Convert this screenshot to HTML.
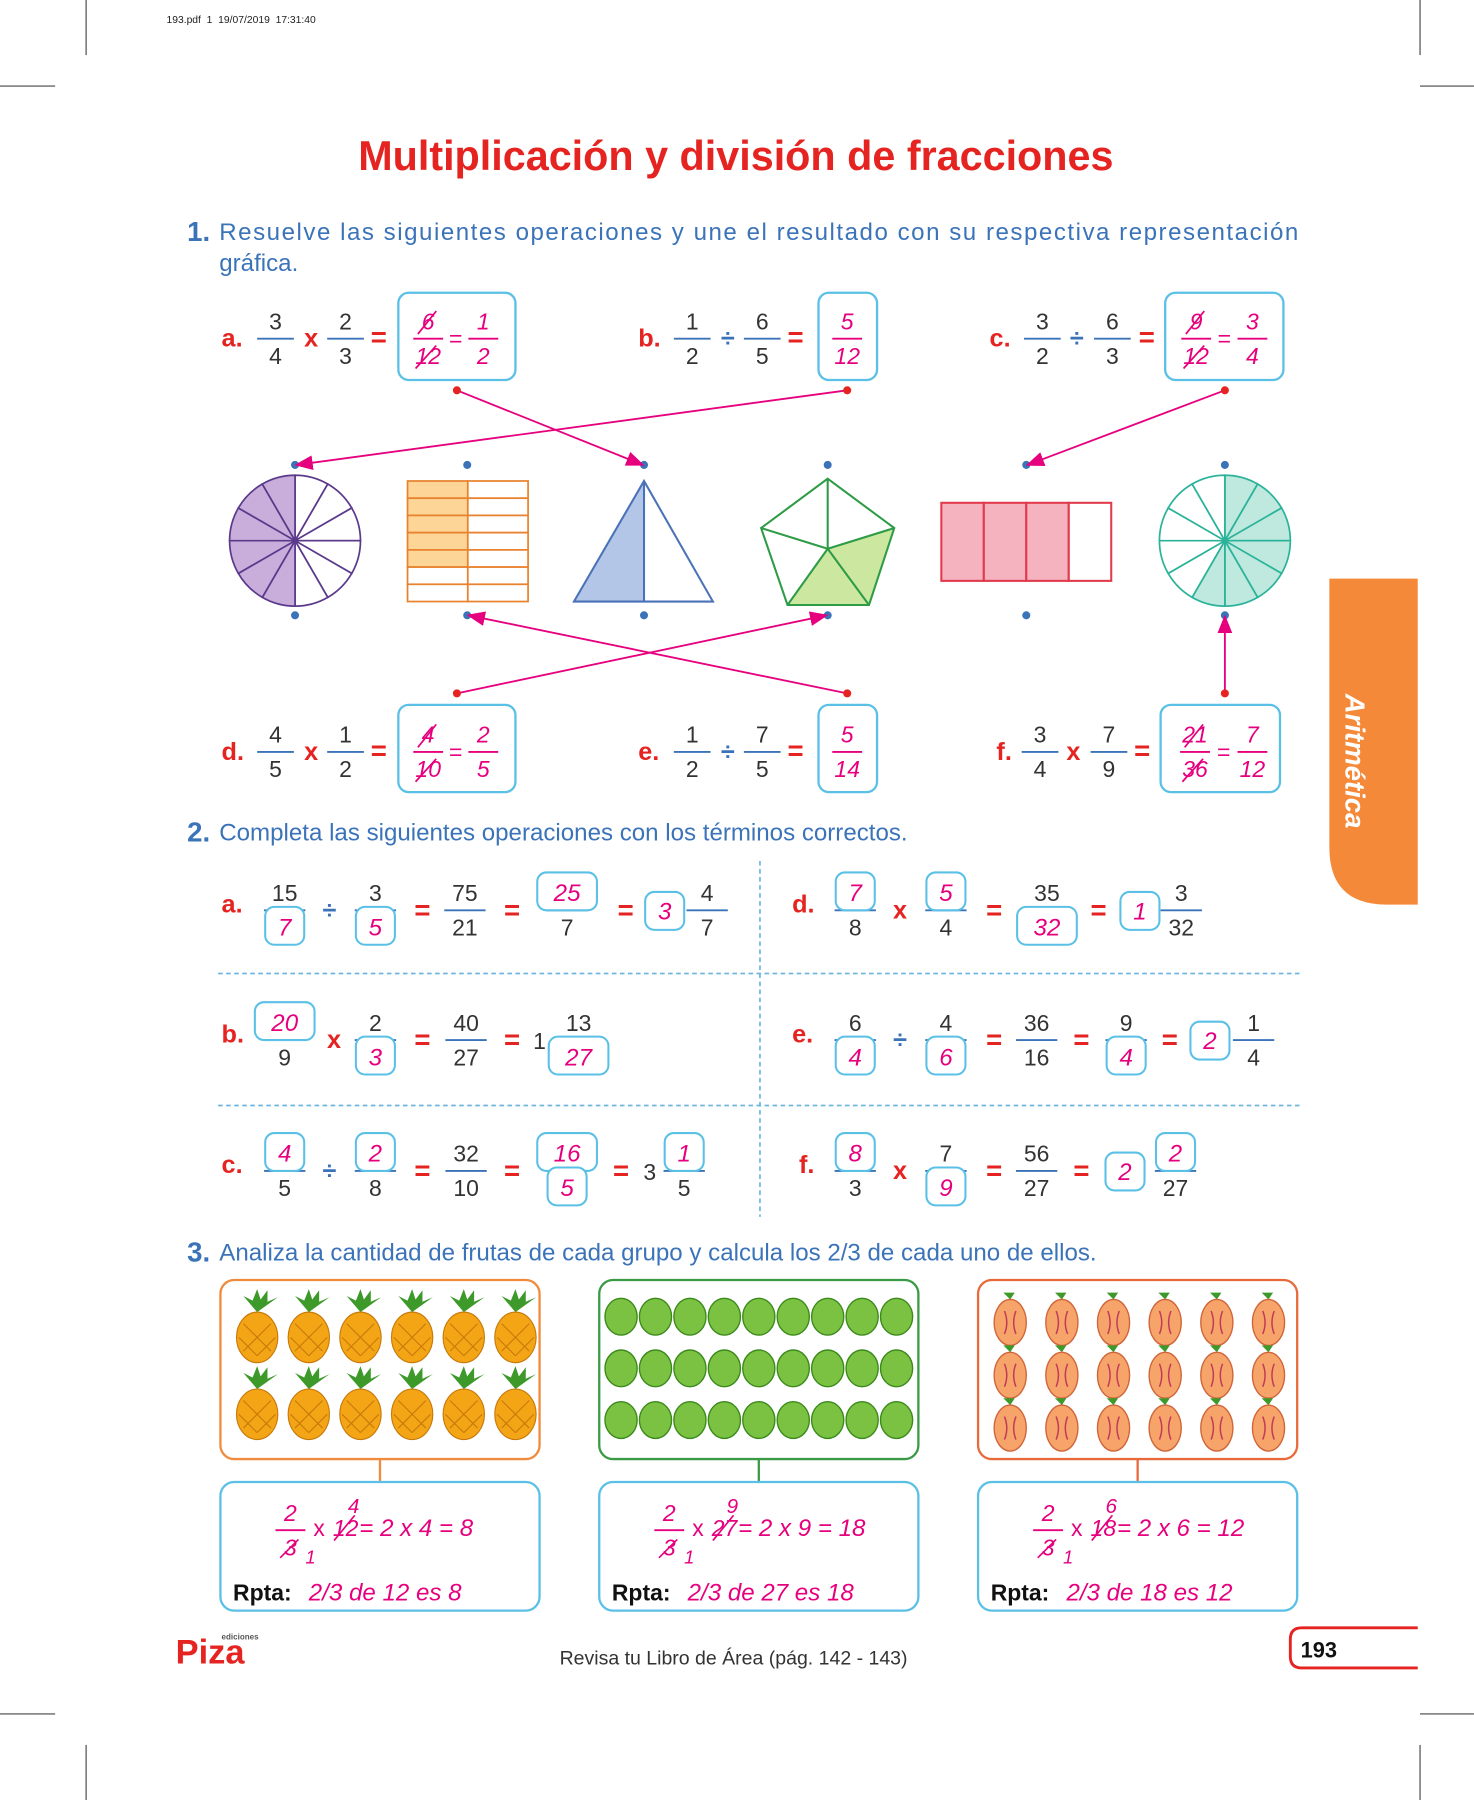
<!DOCTYPE html>
<html><head><meta charset="utf-8"><style>
html,body{margin:0;padding:0;background:#fff;}
#page{width:1474px;height:1800px;display:block;}
</style></head><body>
<svg id="page" viewBox="0 0 1284 1568" width="1474" height="1800" xmlns="http://www.w3.org/2000/svg" font-family="Liberation Sans, sans-serif"></svg>
<script>
const BLUE='#3b73b9', MAG='#e6007e', RED='#e52421', BOX='#5bc0e6', TXT='#333';
const ex1Top=[
 {lab:'a.',lx:193,f1:['3','4',240],op:'x',ox:271,f2:['2','3',301],eq:330,box:[347,449],ans:[['6','12',373,true],['1','2',421]]},
 {lab:'b.',lx:556,f1:['1','2',603],op:'÷',ox:634,f2:['6','5',664],eq:693,box:[713,764],ans:[['5','12',738]]},
 {lab:'c.',lx:862,f1:['3','2',908],op:'÷',ox:938,f2:['6','3',969],eq:999,box:[1015,1118],ans:[['9','12',1042,true],['3','4',1091]]}];
const ex1Bot=[
 {lab:'d.',lx:193,f1:['4','5',240],op:'x',ox:271,f2:['1','2',301],eq:330,box:[347,449],ans:[['4','10',373,true],['2','5',421]]},
 {lab:'e.',lx:556,f1:['1','2',603],op:'÷',ox:634,f2:['7','5',664],eq:693,box:[713,764],ans:[['5','14',738]]},
 {lab:'f.',lx:868,f1:['3','4',906],op:'x',ox:935,f2:['7','9',966],eq:995,box:[1011,1115],ans:[['21','36',1041,true],['7','12',1091]]}];
let s='';
function t(x,y,str,sz,col,extra,name){return `<text x="${x}" y="${y}" font-size="${sz}" fill="${col}" ${extra||''}>${str}</text>`;}
function frac(cx,ly,n,d,o){o=o||{};let c=o.mag?MAG:TXT, it=o.mag?'font-style="italic"':'';let w=o.w||32;let r='';
 r+=`<line x1="${cx-w/2}" y1="${ly}" x2="${cx+w/2}" y2="${ly}" stroke="${o.mag?MAG:BLUE}" stroke-width="1.6"/>`;
 function part(v,y,boxed){let out='';if(boxed){let bw=v.length>1?52:34;out+=`<rect x="${cx-bw/2}" y="${y-25}" width="${bw}" height="33" rx="8" fill="#fff" stroke="${BOX}" stroke-width="1.8"/>`;out+=t(cx,y,v,21,MAG,'text-anchor="middle" font-style="italic"','answer-value');}else out+=t(cx,y,v,20,boxed===false?c:c,'text-anchor="middle" '+it,'frac-term');return out;}
 r+=part(n,ly-8,o.bn);r+=part(d,ly+22,o.bd);
 if(o.cross){r+=`<line x1="${cx-9}" y1="${ly-4}" x2="${cx+7}" y2="${ly-24}" stroke="${MAG}" stroke-width="1.5"/><line x1="${cx-11}" y1="${ly+26}" x2="${cx+7}" y2="${ly+6}" stroke="${MAG}" stroke-width="1.5"/>`;}
 return `<g>${r}</g>`;}
function row1(p,ly,by){let r='';r+=t(p.lx,ly+7,p.lab,22,RED,'font-weight="bold"','item-label');
 r+=frac(p.f1[2],ly,p.f1[0],p.f1[1]);r+=t(p.ox,ly+7,p.op,22,p.op=='x'?RED:BLUE,'text-anchor="middle" font-weight="bold"','operator');
 r+=frac(p.f2[2],ly,p.f2[0],p.f2[1]);r+=t(p.eq,ly+7,'=',24,RED,'text-anchor="middle" font-weight="bold"','equals');
 r+=`<rect x="${p.box[0]}" y="${by}" width="${p.box[1]-p.box[0]}" height="76" rx="9" fill="#fff" stroke="${BOX}" stroke-width="2"/>`;
 p.ans.forEach((a,i)=>{r+=frac(a[2],ly,a[0],a[1],{mag:1,w:26,cross:a[3]});});
 if(p.ans.length>1)r+=t((p.ans[0][2]+p.ans[1][2])/2,ly+7,'=',20,MAG,'text-anchor="middle"','equals');
 return r;}
// crop marks & header
s+=`<g stroke="#444" stroke-width="1"><line x1="75" y1="0" x2="75" y2="48"/><line x1="1237" y1="0" x2="1237" y2="48"/><line x1="0" y1="75" x2="48" y2="75"/><line x1="1237" y1="75" x2="1284" y2="75"/><line x1="0" y1="1493" x2="48" y2="1493"/><line x1="1237" y1="1493" x2="1284" y2="1493"/><line x1="75" y1="1520" x2="75" y2="1568"/><line x1="1237" y1="1520" x2="1237" y2="1568"/></g>`;
s+=t(145,20,'193.pdf&#160;&#160;1&#160;&#160;19/07/2019&#160;&#160;17:31:40',9,'#222','','print-header');
s+=t(641,148,'Multiplicación y división de fracciones',36,RED,'text-anchor="middle" font-weight="bold"','page-title');
s+=t(163,210,'1.',24,BLUE,'font-weight="bold"','exercise-number');
s+=t(191,209,'Resuelve las siguientes operaciones y une el resultado con su respectiva representación',21,BLUE,'textLength="940"','exercise-instruction');
s+=t(191,236,'gráfica.',21,BLUE,'','exercise-instruction');
ex1Top.forEach(p=>s+=row1(p,295,255));
ex1Bot.forEach(p=>s+=row1(p,655,614));
// shapes
function pieSectors(cx,cy,r,n,fill,fillIdx,stroke,name){let g=`<g>`;for(let i=0;i<n;i++){let a0=(i/n)*2*Math.PI-Math.PI/2,a1=((i+1)/n)*2*Math.PI-Math.PI/2;let f=fillIdx.includes(i)?fill:'#fff';g+=`<path d="M${cx},${cy} L${cx+r*Math.cos(a0)},${cy+r*Math.sin(a0)} A${r},${r} 0 0 1 ${cx+r*Math.cos(a1)},${cy+r*Math.sin(a1)} Z" fill="${f}" stroke="${stroke}" stroke-width="1.5"/>`;}return g+'</g>';}
s+=pieSectors(257,471,57,12,'#c9aedb',[6,7,8,9,10,11],'#5b3a8c','purple-circle');
let g=`<g>`;for(let r=0;r<7;r++)for(let c=0;c<2;c++){g+=`<rect x="${355+c*52.5}" y="${419+r*15}" width="52.5" height="15" fill="${c==0&&r<5?'#fcd597':'#fff'}" stroke="#e8822e" stroke-width="1.5"/>`;}s+=g+'</g>';
s+=`<g><path d="M500,524 L561,419 L561,524 Z" fill="#b3c6e8"/><path d="M500,524 L561,419 L621,524 Z M561,419 L561,524" fill="none" stroke="#4a72b8" stroke-width="1.8"/></g>`;
s+=`<g><path d="M721,478 L779,460 L757,527 L686,527 Z" fill="#cce8a0"/><path d="M721,417 L779,460 L757,527 L686,527 L663,460 Z M721,478 L721,417 M721,478 L779,460 M721,478 L757,527 M721,478 L686,527 M721,478 L663,460" fill="none" stroke="#2e9b46" stroke-width="1.8"/></g>`;
g=`<g>`;for(let i=0;i<4;i++)g+=`<rect x="${820+i*37}" y="438" width="37" height="68" fill="${i<3?'#f5b3bf':'#fff'}" stroke="#e03a4c" stroke-width="1.8"/>`;s+=g+'</g>';
s+=pieSectors(1067,471,57,12,'#bfe9df',[0,1,2,3,4,5,6],'#2bb39a','teal-circle');
[257,407,561,721,894,1067].forEach(x=>{s+=`<circle cx="${x}" cy="405" r="3.5" fill="${BLUE}"/><circle cx="${x}" cy="536" r="3.5" fill="${BLUE}"/>`;});
s+=`<defs><marker id="ar" markerWidth="10" markerHeight="8" refX="9" refY="4" orient="auto"><path d="M0,0 L10,4 L0,8 Z" fill="${MAG}"/></marker></defs>`;
[[398,340,560,405],[738,340,258,405],[1067,340,895,405],[398,604,720,536],[738,604,408,536],[1067,604,1067,537]].forEach(l=>{s+=`<line x1="${l[0]}" y1="${l[1]}" x2="${l[2]}" y2="${l[3]}" stroke="${MAG}" stroke-width="1.6" marker-end="url(#ar)"/><circle cx="${l[0]}" cy="${l[1]}" r="3.5" fill="${RED}"/>`;});
// exercise 2
s+=t(163,733,'2.',24,BLUE,'font-weight="bold"','exercise-number');
s+=t(191,732,'Completa las siguientes operaciones con los términos correctos.',21,BLUE,'','exercise-instruction');
s+=`<g stroke="#6fb6e0" stroke-width="1.5" stroke-dasharray="4,3"><line x1="662" y1="750" x2="662" y2="1060"/><line x1="190" y1="848" x2="1132" y2="848"/><line x1="190" y1="963" x2="1132" y2="963"/></g>`;
function box1(cx,ly,v){let bw=v.length>1?52:34;return `<rect x="${cx-bw/2}" y="${ly-16}" width="${bw}" height="33" rx="8" fill="#fff" stroke="${BOX}" stroke-width="1.8"/>`+t(cx,ly+8,v,21,MAG,'text-anchor="middle" font-style="italic"','answer-value');}
function lab(x,ly,l){return t(x,ly+2,l,22,RED,'font-weight="bold"','item-label');}
function op(x,ly,o){return t(x,ly+7,o,22,o=='x'?RED:BLUE,'text-anchor="middle" font-weight="bold"','operator');}
function eq(x,ly){return t(x,ly+8,'=',24,RED,'text-anchor="middle" font-weight="bold"','equals');}
function F(cx,ly,n,d,bn,bd){return frac(cx,ly,n,d,{w:36,bn:bn,bd:bd});}
let L=793;
s+=lab(193,L,'a.')+F(248,L,'15','7',0,1)+op(287,L,'÷')+F(327,L,'3','5',0,1)+eq(368,L)+F(405,L,'75','21')+eq(446,L)+F(494,L,'25','7',1,0)+eq(545,L)+box1(579,L,'3')+F(616,L,'4','7');
s+=lab(690,L,'d.')+F(745,L,'7','8',1,0)+op(784,L,'x')+F(824,L,'5','4',1,0)+eq(866,L)+F(912,L,'35','32',0,1)+eq(957,L)+box1(993,L,'1')+F(1029,L,'3','32');
L=906;
s+=lab(193,L,'b.')+F(248,L,'20','9',1,0)+op(291,L,'x')+F(327,L,'2','3',0,1)+eq(368,L)+F(406,L,'40','27')+eq(446,L)+t(470,L+8,'1',20,TXT,'text-anchor="middle"','whole-part')+F(504,L,'13','27',0,1);
s+=lab(690,L,'e.')+F(745,L,'6','4',0,1)+op(784,L,'÷')+F(824,L,'4','6',0,1)+eq(866,L)+F(903,L,'36','16')+eq(942,L)+F(981,L,'9','4',0,1)+eq(1019,L)+box1(1054,L,'2')+F(1092,L,'1','4');
L=1020;
s+=lab(193,L,'c.')+F(248,L,'4','5',1,0)+op(287,L,'÷')+F(327,L,'2','8',1,0)+eq(368,L)+F(406,L,'32','10')+eq(446,L)+F(494,L,'16','5',1,1)+eq(541,L)+t(566,L+8,'3',20,TXT,'text-anchor="middle"','whole-part')+F(596,L,'1','5',1,0);
s+=lab(696,L,'f.')+F(745,L,'8','3',1,0)+op(784,L,'x')+F(824,L,'7','9',0,1)+eq(866,L)+F(903,L,'56','27')+eq(942,L)+box1(980,L,'2')+F(1024,L,'2','27',1,0);
// exercise 3
s+=t(163,1099,'3.',24,BLUE,'font-weight="bold"','exercise-number');
s+=t(191,1098,'Analiza la cantidad de frutas de cada grupo y calcula los 2/3 de cada uno de ellos.',21,BLUE,'','exercise-instruction');
const groups=[{x:192,col:'#f08a3c',total:'12',q:'4',res:'8'},{x:522,col:'#3b9a46',total:'27',q:'9',res:'18'},{x:852,col:'#e86a3c',total:'18',q:'6',res:'12'}];
groups.forEach((G,i)=>{let cx=G.x+139;
 s+=`<rect x="${G.x}" y="1115" width="278" height="156" rx="12" fill="#fff" stroke="${G.col}" stroke-width="2"/>`;
 s+=`<line x1="${cx}" y1="1271" x2="${cx}" y2="1291" stroke="${G.col}" stroke-width="2"/>`;
 s+=`<rect x="${G.x}" y="1291" width="278" height="112" rx="12" fill="#fff" stroke="${BOX}" stroke-width="2"/>`;
 let fx=G.x+61;
 s+=frac(fx,1333,'2','3',{mag:1,w:26});
 s+=`<line x1="${fx-9}" y1="1357" x2="${fx+7}" y2="1341" stroke="${MAG}" stroke-width="1.4"/>`+t(fx+13,1362,'1',16,MAG,'font-style="italic"','cancel-result');
 s+=t(fx+20,1338,'x',20,MAG,'','operator');
 s+=t(fx+37,1338,G.total,20,MAG,'font-style="italic"','whole-number');
 s+=`<line x1="${fx+38}" y1="1342" x2="${fx+56}" y2="1320" stroke="${MAG}" stroke-width="1.4"/>`;
 s+=t(fx+50,1318,G.q,18,MAG,'font-style="italic"','cancel-result');
 s+=t(fx+60,1338,`= 2 x ${G.q} = ${G.res}`,21,MAG,'font-style="italic"','calculation');
 s+=t(G.x+11,1394,'Rpta:',20,'#111','font-weight="bold"','answer-label');
 s+=t(G.x+77,1394,`2/3 de ${G.total} es ${G.res}`,21,MAG,'font-style="italic"','answer-text');
});
// pineapples
for(let r=0;r<2;r++)for(let c=0;c<6;c++){let x=224+45*c,y=1165+67*r;s+=`<g><path d="M${x},${y-22} l-12,-14 l8,4 l4,-10 l3,9 l6,-8 l0,10 l9,-4 z" fill="#3d9a2a"/><ellipse cx="${x}" cy="${y}" rx="18" ry="22" fill="#f4a516" stroke="#c77a0a" stroke-width="1"/><path d="M${x-12},${y-12} l24,24 M${x+12},${y-12} l-24,24 M${x-16},${y} l16,16 M${x+16},${y} l-16,16" stroke="#c77a0a" stroke-width="1"/></g>`;}
for(let r=0;r<3;r++)for(let c=0;c<9;c++){let x=541+30*c,y=1147+45*r;s+=`<ellipse cx="${x}" cy="${y}" rx="14" ry="16" fill="#7cc242" stroke="#3b8a1c" stroke-width="1.2"/>`;}
for(let r=0;r<3;r++)for(let c=0;c<6;c++){let x=880+45*c,y=1152+46*r;s+=`<g><path d="M${x},${y-20} l-6,-6 l10,0 z" fill="#3d9a2a"/><ellipse cx="${x}" cy="${y}" rx="14" ry="20" fill="#f6a46a" stroke="#d0653a" stroke-width="1.2"/><path d="M${x-5},${y-10} q4,10 0,20 M${x+5},${y-10} q-4,10 0,20" stroke="#c03a5a" stroke-width="1.3" fill="none"/></g>`;}
// tab
s+=`<path d="M1158,504 L1235,504 L1235,788 L1208,788 Q1158,788 1158,738 Z" fill="#f5893a"/>`;
s+=t(1172,663,'Aritmética',24,'#fff','text-anchor="middle" font-weight="bold" font-style="italic" transform="rotate(90 1172 663)"','section-tab-label');
// footer
s+=t(153,1449,'Piza',30,RED,'font-weight="bold"','publisher-logo');
s+=t(193,1428,'ediciones',7,'#555','font-weight="bold"','publisher-logo-sub');
s+=t(639,1450,'Revisa tu Libro de Área (pág. 142 - 143)',17,'#333','text-anchor="middle"','footer-reference');
s+=`<path d="M1235,1418 L1134,1418 Q1124,1418 1124,1428 L1124,1443 Q1124,1453 1134,1453 L1235,1453" fill="none" stroke="${RED}" stroke-width="2.5"/>`;
s+=t(1133,1444,'193',19,'#111','font-weight="bold"','page-number');
document.getElementById('page').innerHTML=s;
</script>
</body></html>
